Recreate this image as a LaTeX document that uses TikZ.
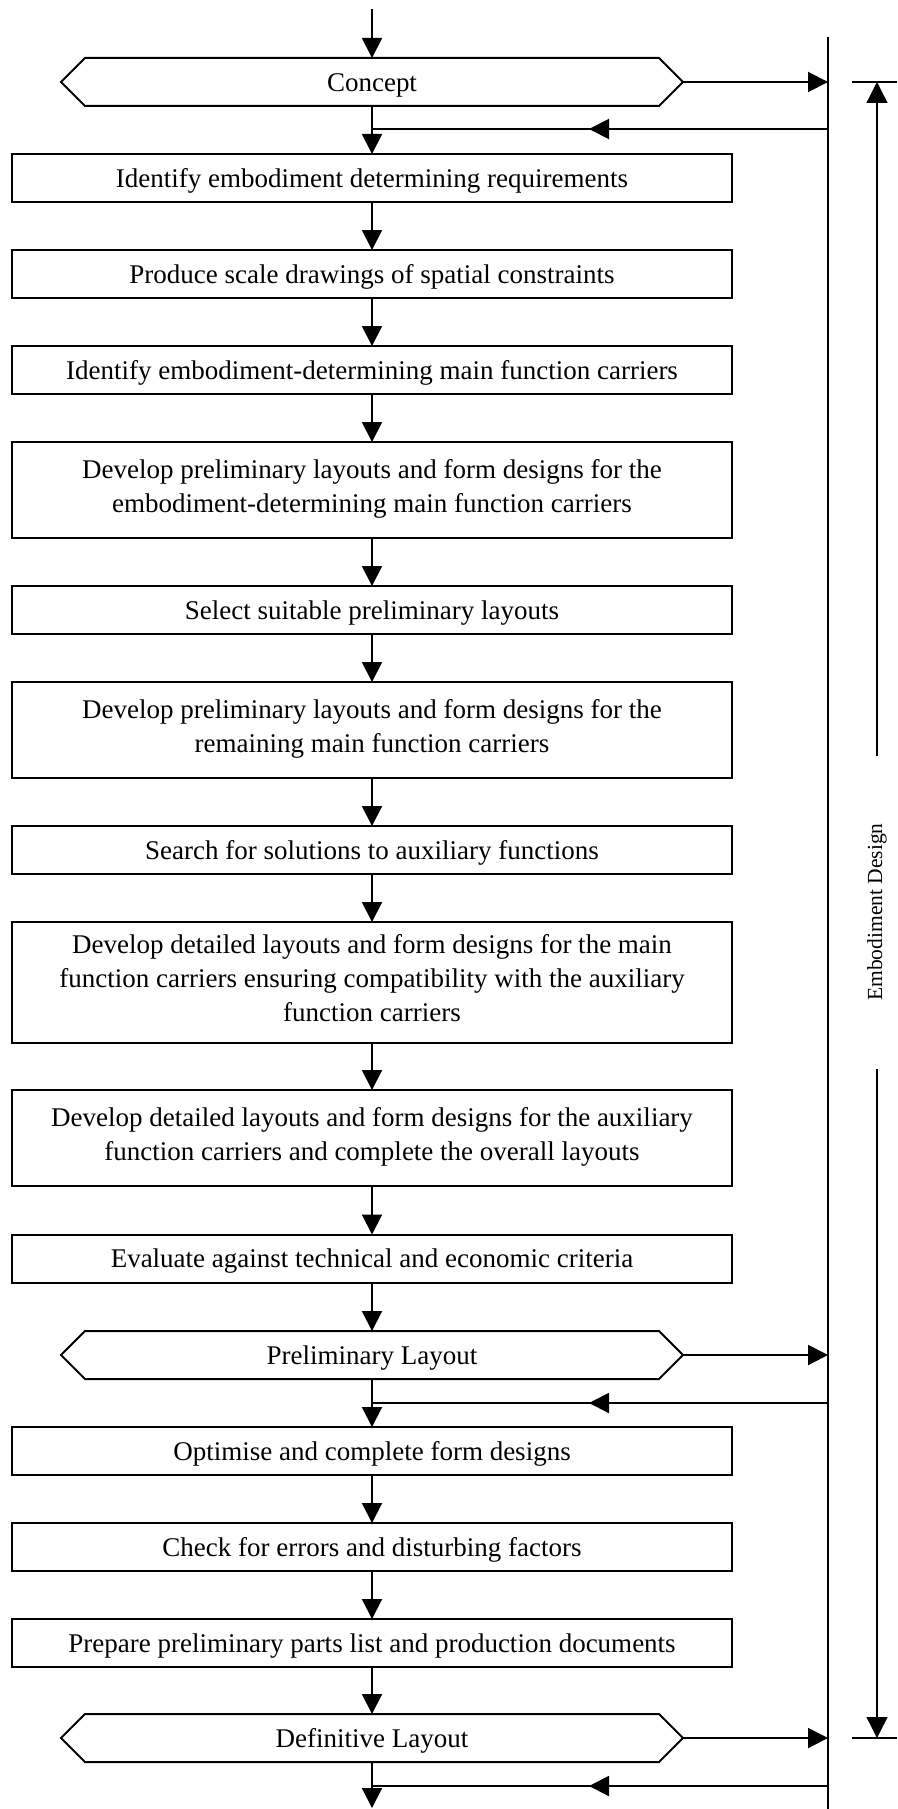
\documentclass[tikz,border=0pt]{standalone}
\usepackage{fontspec}
\setmainfont{Liberation Serif}
\usetikzlibrary{arrows.meta,shapes.symbols,decorations.markings}

\newcommand\boxfont{\fontsize{27}{34}\selectfont}
\newcommand\dimfont{\fontsize{21.5}{24}\selectfont}
% struts fixing the first-line height and last-line depth of box texts
\newcommand\onestrut{\rule[-4.6pt]{0pt}{28.6pt}}
\newcommand\headstrut{\rule{0pt}{18pt}}
\newcommand\footstrut{\rule[-8.4pt]{0pt}{8.4pt}}

\begin{document}
\begin{tikzpicture}[x=1pt,y=-1pt,
  every node/.style={inner sep=0pt, outer sep=0pt},
  stepbox/.style={draw, line width=2pt, minimum width=720pt, minimum height=48pt,
    align=center, font=\boxfont, execute at begin node=\onestrut},
  tallbox/.style={draw, line width=2pt, minimum width=720pt, minimum height=96pt,
    align=center, font=\boxfont, execute at begin node=\headstrut, execute at end node=\footstrut},
  hexbox/.style={draw, line width=2pt, shape=signal, signal to=west and east,
    signal pointer angle=90, minimum width=622pt, minimum height=48pt,
    font=\boxfont, execute at begin node=\onestrut},
  flow/.style={line width=2pt, -{Triangle[length=20pt,width=20pt]}},
  plain/.style={line width=2pt},
  feedback/.style={line width=2pt, postaction={decorate},
    decoration={markings, mark=at position 239pt with {\arrow{Triangle[length=20pt,width=20pt]}}}},
  dimline/.style={line width=1.3pt, -{Triangle[length=21pt,width=21pt]}},
]
\useasboundingbox (0,0) rectangle (897,1809);
\fill[white] (0,0) rectangle (897,1809);

% process column
\coordinate (start) at (372,9);
\node[hexbox] (concept) at (372,82) {Concept};
\node[stepbox] (b1) at (372,178) {Identify embodiment determining requirements};
\node[stepbox] (b2) at (372,274) {Produce scale drawings of spatial constraints};
\node[stepbox] (b3) at (372,370) {Identify embodiment-determining main function carriers};
\node[tallbox] (b4) at (372,490) {Develop preliminary layouts and form designs for the\\embodiment-determining main function carriers};
\node[stepbox] (b5) at (372,610) {Select suitable preliminary layouts};
\node[tallbox] (b6) at (372,730) {Develop preliminary layouts and form designs for the\\remaining main function carriers};
\node[stepbox] (b7) at (372,850) {Search for solutions to auxiliary functions};
\node[tallbox, minimum height=121pt] (b8) at (372,982.5) {Develop detailed layouts and form designs for the main\\function carriers ensuring compatibility with the auxiliary\\function carriers};
\node[tallbox] (b9) at (372,1138) {Develop detailed layouts and form designs for the auxiliary\\function carriers and complete the overall layouts};
\node[stepbox] (b10) at (372,1258.5) {Evaluate against technical and economic criteria};
\node[hexbox] (prelim) at (372,1355) {Preliminary Layout};
\node[stepbox] (b11) at (372,1451) {Optimise and complete form designs};
\node[stepbox] (b12) at (372,1547) {Check for errors and disturbing factors};
\node[stepbox] (b13) at (372,1643) {Prepare preliminary parts list and production documents};
\node[hexbox] (defin) at (372,1738) {Definitive Layout};
\coordinate (finish) at (372,1808);

\draw[flow] (start) -- (concept.north);
\draw[flow] (concept.south) -- (b1.north);
\draw[flow] (b1.south) -- (b2.north);
\draw[flow] (b2.south) -- (b3.north);
\draw[flow] (b3.south) -- (b4.north);
\draw[flow] (b4.south) -- (b5.north);
\draw[flow] (b5.south) -- (b6.north);
\draw[flow] (b6.south) -- (b7.north);
\draw[flow] (b7.south) -- (b8.north);
\draw[flow] (b8.south) -- (b9.north);
\draw[flow] (b9.south) -- (b10.north);
\draw[flow] (b10.south) -- (prelim.north);
\draw[flow] (prelim.south) -- (b11.north);
\draw[flow] (b11.south) -- (b12.north);
\draw[flow] (b12.south) -- (b13.north);
\draw[flow] (b13.south) -- (defin.north);
\draw[flow] (defin.south) -- (finish);

% information rail on the right
\coordinate (railtop) at (828,37);
\coordinate (railbot) at (828,1809);
\draw[plain] (railtop) -- (railbot);

\draw[flow] (concept.east) -- (concept.east -| railtop);
\draw[flow] (prelim.east) -- (prelim.east -| railtop);
\draw[flow] (defin.east) -- (defin.east -| railtop);

\coordinate (fb1) at (828,129);
\coordinate (fb2) at (828,1403);
\coordinate (fb3) at (828,1786);
\draw[feedback] (fb1) -- (fb1 -| concept.south);
\draw[feedback] (fb2) -- (fb2 -| prelim.south);
\draw[feedback] (fb3) -- (fb3 -| defin.south);

% phase dimension
\coordinate (tickta) at (852,82);
\coordinate (ticktb) at (897,82);
\coordinate (tickba) at (852,1738);
\coordinate (tickbb) at (897,1738);
\draw[plain] (tickta) -- (ticktb);
\draw[plain] (tickba) -- (tickbb);
\coordinate (dtop) at (877,82);
\coordinate (dbot) at (877,1738);
\coordinate (gaptop) at (877,756);
\coordinate (gapbot) at (877,1069);
\draw[dimline] (gaptop) -- (dtop);
\draw[dimline] (gapbot) -- (dbot);
\node[rotate=90, font=\dimfont] (phase) at (877,912) {Embodiment Design};
\end{tikzpicture}
\end{document}
